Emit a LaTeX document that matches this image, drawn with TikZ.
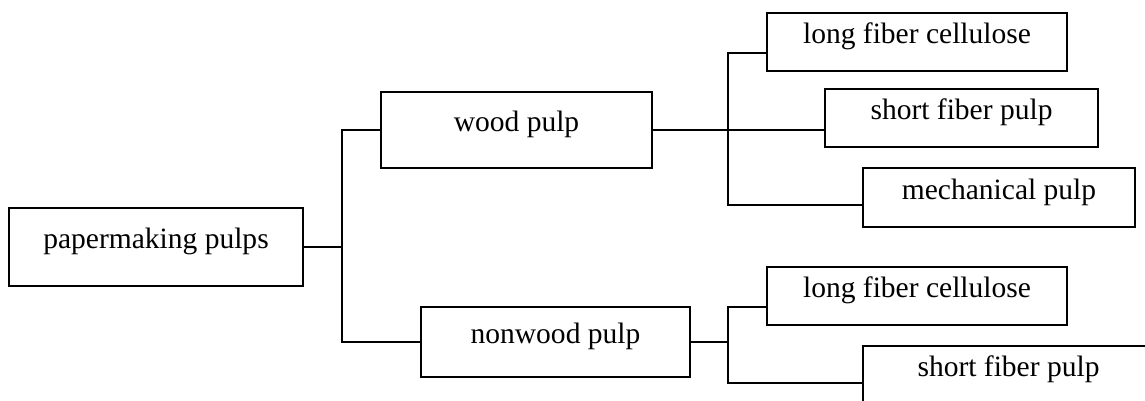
\documentclass[tikz,border=0pt]{standalone}
\usepackage{fontspec}
\setmainfont{Liberation Serif}
\usetikzlibrary{positioning}

\begin{document}
\begin{tikzpicture}[
    x=0.02cm, y=-0.02cm,
    every node/.style={font=\fontsize{16.8}{20}\selectfont},
    bx/.style={rectangle, draw, line width=1pt, inner sep=0pt,
               text height=0.8em, text depth=0.6em},
    ln/.style={line width=1pt},
  ]
  \useasboundingbox (0,0) rectangle (1145,401);
  % root and first level
  \node[bx, minimum width=5.88cm, minimum height=1.56cm] (pm) at (156,247) {papermaking pulps};
  \node[bx, minimum width=5.42cm, minimum height=1.52cm] (wood) at (516.5,130) {wood pulp};
  \node[bx, minimum width=5.38cm, minimum height=1.40cm] (nonwood) at (555.5,342) {nonwood pulp};
  % second level
  \node[bx, minimum width=6.00cm, minimum height=1.16cm] (lfc1) at (917,42) {long fiber cellulose};
  \node[bx, minimum width=5.46cm, minimum height=1.16cm] (sfp1) at (961.5,118) {short fiber pulp};
  \node[bx, minimum width=5.44cm, minimum height=1.18cm] (mech) at (999,197.5) {mechanical pulp};
  \node[bx, minimum width=6.00cm, minimum height=1.16cm] (lfc2) at (917,296) {long fiber cellulose};
  \node[bx, minimum width=5.82cm, minimum height=1.16cm] (sfp2) at (1008.5,375) {short fiber pulp};
  \coordinate (jA) at (342,247);
  \coordinate (jB1) at (728,53);
  \coordinate (jB3) at (728,205);
  \coordinate (jC1) at (728,307);
  \coordinate (jC2) at (728,383);
  \draw[ln] (pm.east) -- (jA);
  \draw[ln] (wood.west) -| (jA) |- (nonwood.west);
  \draw[ln] (wood.east) -- (wood.east -| sfp1.west);
  \draw[ln] (jB1 -| lfc1.west) -- (jB1) -- (jB3) -- (jB3 -| mech.west);
  \draw[ln] (nonwood.east) -- (nonwood.east -| jC1);
  \draw[ln] (jC1 -| lfc2.west) -- (jC1) -- (jC2) -- (jC2 -| sfp2.west);
\end{tikzpicture}
\end{document}
